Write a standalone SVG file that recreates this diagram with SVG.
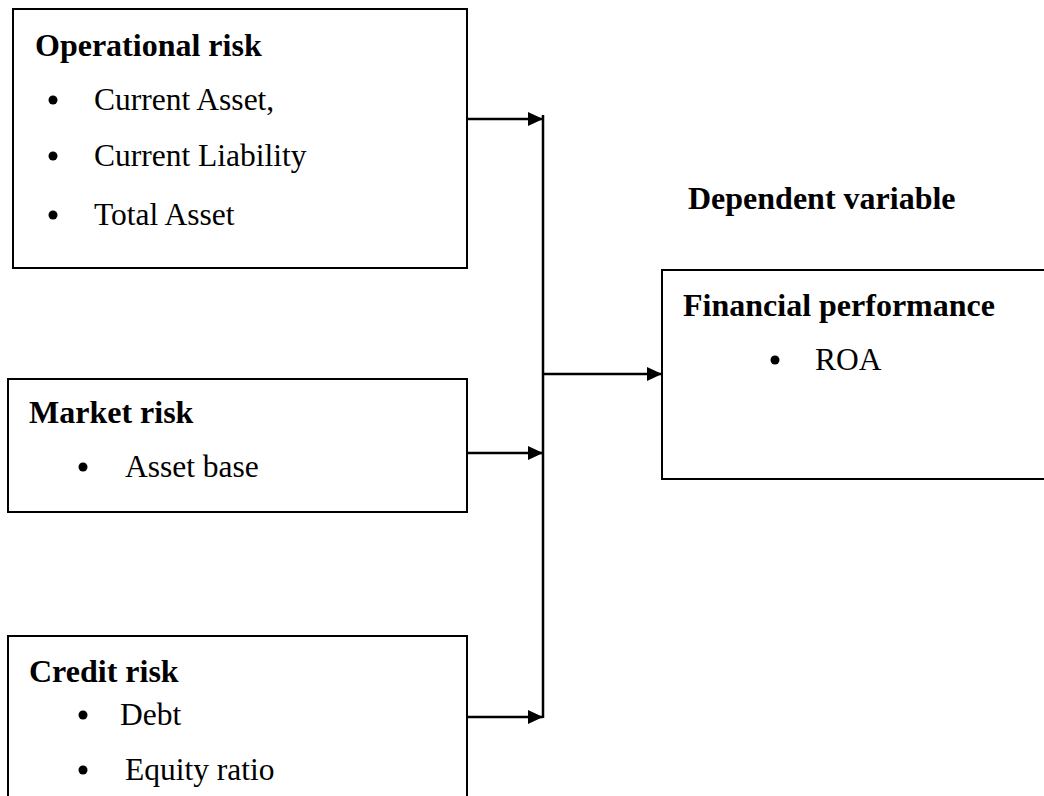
<svg xmlns="http://www.w3.org/2000/svg" width="1044" height="796" viewBox="0 0 1044 796">
<style>
.box{fill:#fff;stroke:#000;stroke-width:2}
.ln{fill:none;stroke:#000;stroke-width:2.5}
.h{font-family:"Liberation Serif","Times New Roman",serif;font-weight:bold;font-size:32px;fill:#000}
.t{font-family:"Liberation Serif","Times New Roman",serif;font-size:31.5px;fill:#000}
</style>
<defs>
<marker id="ah" markerWidth="15" markerHeight="14" refX="15" refY="7" orient="auto" markerUnits="userSpaceOnUse">
<path d="M0,0 L15,7 L0,14 Z" fill="#000"/>
</marker>
</defs>
<rect width="1044" height="796" fill="#fff"/>
<g id="operational">
<rect class="box" x="13" y="9" width="454" height="259"/>
<text class="h" x="35" y="56">Operational risk</text>
<circle cx="53" cy="100" r="4.5"/><text class="t" x="94" y="110">Current Asset,</text>
<circle cx="53" cy="156" r="4.5"/><text class="t" x="94" y="166">Current Liability</text>
<circle cx="53" cy="215" r="4.5"/><text class="t" x="94" y="225">Total Asset</text>
</g>
<g id="market">
<rect class="box" x="8" y="379" width="459" height="133"/>
<text class="h" x="29" y="423">Market risk</text>
<circle cx="83" cy="467" r="4.5"/><text class="t" x="125" y="477">Asset base</text>
</g>
<g id="credit">
<path class="box" d="M8,800 V636 H467 V800"/>
<text class="h" x="29" y="682">Credit risk</text>
<circle cx="83" cy="715" r="4.5"/><text class="t" x="120" y="725">Debt</text>
<circle cx="83" cy="770" r="4.5"/><text class="t" x="125" y="780">Equity ratio</text>
</g>
<g id="dependent-label">
<text class="h" x="688" y="209">Dependent variable</text>
</g>
<g id="financial">
<rect class="box" x="662" y="270" width="400" height="209"/>
<text class="h" x="683" y="316">Financial performance</text>
<circle cx="775" cy="360" r="4.5"/><text class="t" x="815" y="370">ROA</text>
</g>
<g id="connectors">
<path class="ln" d="M543,115 V718"/>
<path class="ln" d="M467,119 H543" marker-end="url(#ah)"/>
<path class="ln" d="M467,453 H543" marker-end="url(#ah)"/>
<path class="ln" d="M467,717 H543" marker-end="url(#ah)"/>
<path class="ln" d="M543,374 H662" marker-end="url(#ah)"/>
</g>
</svg>
